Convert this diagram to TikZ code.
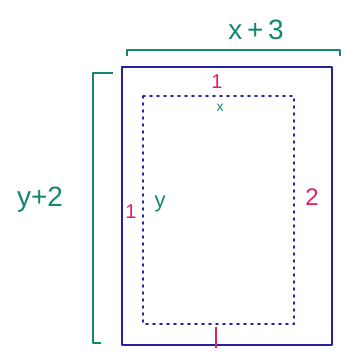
\documentclass[tikz,border=0pt]{standalone}
\usepackage{fontspec}
\setmainfont{Liberation Sans}
\definecolor{penblue}{RGB}{35,35,160}
\definecolor{pengreen}{RGB}{20,135,110}
\definecolor{penpink}{RGB}{230,30,100}
\tikzset{
  outline/.style={penblue,line width=2.4pt,line join=round},
  dotline/.style={penblue,line width=1.8pt,dash pattern=on 2pt off 5pt,line cap=round},
  brace/.style={pengreen,line width=2.2pt,line join=round},
  greenlbl/.style={text=pengreen,inner sep=0pt},
  pinklbl/.style={text=penpink,inner sep=0pt}
}
\begin{document}
\begin{tikzpicture}[x=1pt,y=-1pt]
\useasboundingbox (0,0) rectangle (344,354);
\def\xA{122};
\def\yA{67};
\def\xB{332};
\def\yB{345};
\coordinate (A) at (\xA,\yA);
\coordinate (B) at (\xB,\yB);
% outer rectangle
\draw[outline] (A) rectangle (B);
% inner dotted rectangle
\coordinate (C) at (143,96);
\coordinate (D) at (294,324);
\draw[dotline] (C) rectangle (D);
% top brace
\coordinate (T1) at (127,50);
\coordinate (T2) at (340,50);
\draw[brace] ([yshift=-6pt]T1) -- (T1) -- (T2) -- ([yshift=-6pt]T2);
\node[greenlbl,font=\fontsize{28}{28}\selectfont] (top) at (256,30) {x\,+\,3};
% left brace
\coordinate (L1) at (93,73);
\coordinate (L2) at (93,343);
\draw[brace] ([xshift=20pt]L1) -- (L1) -- (L2) -- ([xshift=8pt]L2);
\node[greenlbl,font=\fontsize{28}{28}\selectfont] (left) at (40,200) {y+2};
% inner labels
\node[greenlbl,font=\fontsize{14}{14}\selectfont] (xlbl) at (220,108) {x};
\node[greenlbl,font=\fontsize{22}{22}\selectfont] (ylbl) at (160,204) {y};
\node[pinklbl,font=\fontsize{20}{20}\selectfont] (one1) at (217,82) {1};
\node[pinklbl,font=\fontsize{20}{20}\selectfont] (one2) at (131,212) {1};
\node[pinklbl,font=\fontsize{24}{24}\selectfont] (two) at (312,197) {2};
\draw[penpink,line width=1.8pt] (216,327) -- (216,348);
\end{tikzpicture}
\end{document}
